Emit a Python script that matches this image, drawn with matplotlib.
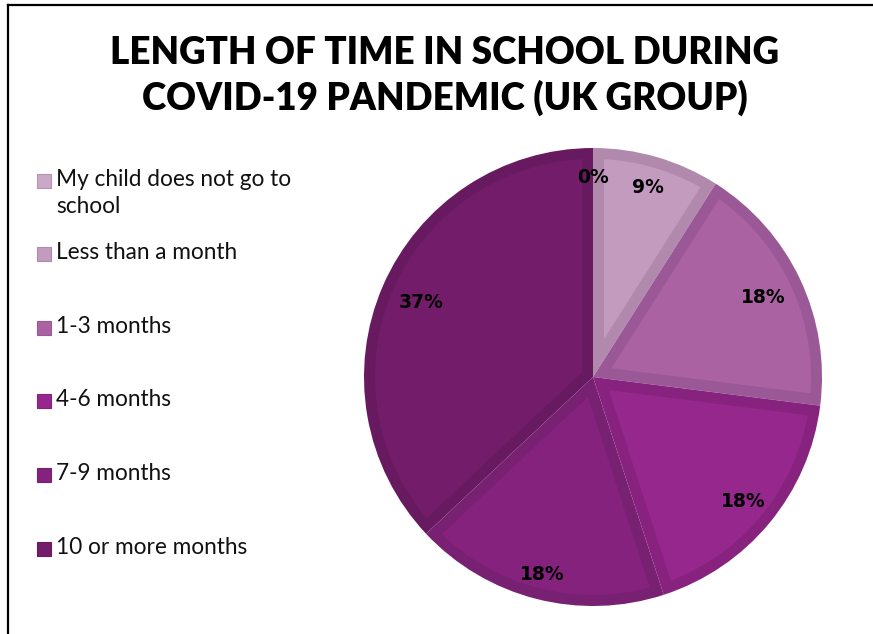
import matplotlib
matplotlib.use("Agg")
import numpy as np
import matplotlib.pyplot as plt
from matplotlib.patches import Rectangle, Polygon
from matplotlib.lines import Line2D

# Survey answers and their shares (%)
categories = [
    "My child does not go to\nschool",
    "Less than a month",
    "1-3 months",
    "4-6 months",
    "7-9 months",
    "10 or more months",
]
shares = [0, 9, 18, 18, 18, 37]
share_labels = ["0%", "9%", "18%", "18%", "18%", "37%"]

title = "LENGTH OF TIME IN SCHOOL DURING\nCOVID-19 PANDEMIC (UK GROUP)"

# Slice fills and the darker rims around them
fills = ["#caa9c7", "#c29bbf", "#aa62a3", "#95278d", "#85227d", "#731c6a"]
rims = ["#b792b3", "#b089ac", "#9b5896", "#87237f", "#782071", "#681a61"]

W, H = 873, 634
fig = plt.figure(figsize=(W / 100, H / 100), dpi=100)
fig.patch.set_facecolor("white")

# frame lines along the top and left edges
fig.add_artist(Line2D([8 / W, 1], [1 - 5 / H, 1 - 5 / H], color="black", lw=1.6))
fig.add_artist(Line2D([8 / W, 8 / W], [0, 1 - 5 / H], color="black", lw=1.6))

fig.text(445 / W, 1 - 76 / H, title, ha="center", va="center",
         fontsize=26.5, fontweight="heavy", family="Lato",
         linespacing=1.33, color="black")

# pie axes: centre (593, 377), radius ~229 px
R = 229
ax = fig.add_axes([(593 - R) / W, 1 - (377 + R) / H, 2 * R / W, 2 * R / H])
wedges, _ = ax.pie(shares, colors=rims, startangle=90, counterclock=False,
                   radius=1.0, wedgeprops=dict(linewidth=0))
ax.set_xlim(-1, 1)
ax.set_ylim(-1, 1)
ax.set_aspect("equal")
ax.axis("off")


def inset_slice(theta1, theta2, d):
    """Polygon of a wedge (theta1 < theta2, degrees) shrunk inward by d."""
    a1, a2 = np.deg2rad(theta1), np.deg2rad(theta2)
    half = (a2 - a1) / 2
    bis = a1 + half
    apex = np.array([np.cos(bis), np.sin(bis)]) * d / np.sin(half)
    rho = 1.0 - d
    pts_end = []
    for a in (a1, a2):
        u = np.array([np.cos(a), np.sin(a)])
        b = apex @ u
        c = apex @ apex - rho ** 2
        t = -b + np.sqrt(b * b - c)
        pts_end.append(apex + t * u)
    s1 = np.arctan2(pts_end[0][1], pts_end[0][0])
    s2 = np.arctan2(pts_end[1][1], pts_end[1][0])
    if s2 < s1:
        s2 += 2 * np.pi
    arc = np.linspace(s1, s2, 120)
    ring = np.column_stack([rho * np.cos(arc), rho * np.sin(arc)])
    return np.vstack([apex, ring])


# lighter inner face of each slice, leaving a rim about 11 px wide
rim_w = 11 / R
for w, fc in zip(wedges, fills):
    if w.theta2 - w.theta1 <= 0:
        continue
    ax.add_patch(Polygon(inset_slice(w.theta1, w.theta2, rim_w),
                         closed=True, facecolor=fc, edgecolor="none"))

# percentage labels at the middle angle of each slice
label_r = [0.87, 0.86, 0.82, 0.85, 0.89, 0.82]
start = 90.0
for val, txt, r in zip(shares, share_labels, label_r):
    span = val / sum(shares) * 360
    mid = np.deg2rad(start - span / 2)
    ax.text(r * np.cos(mid), r * np.sin(mid), txt, ha="center", va="center",
            fontsize=13.5, fontweight="bold", family="DejaVu Sans", color="black")
    start -= span

# legend on the left
entry_y = [181, 254, 328, 401, 475, 549]
for name, fc, ec, y in zip(categories, fills, rims, entry_y):
    fig.add_artist(Rectangle((37 / W, 1 - (y + 7) / H), 14 / W, 14 / H,
                             facecolor=fc, edgecolor=ec, lw=0.8))
    fig.text(56 / W, 1 - (y - 12) / H, name, ha="left", va="top",
             fontsize=16.3, family="Lato", color="#111111", linespacing=1.38)

fig.savefig("out.png", dpi=100, facecolor="white")
